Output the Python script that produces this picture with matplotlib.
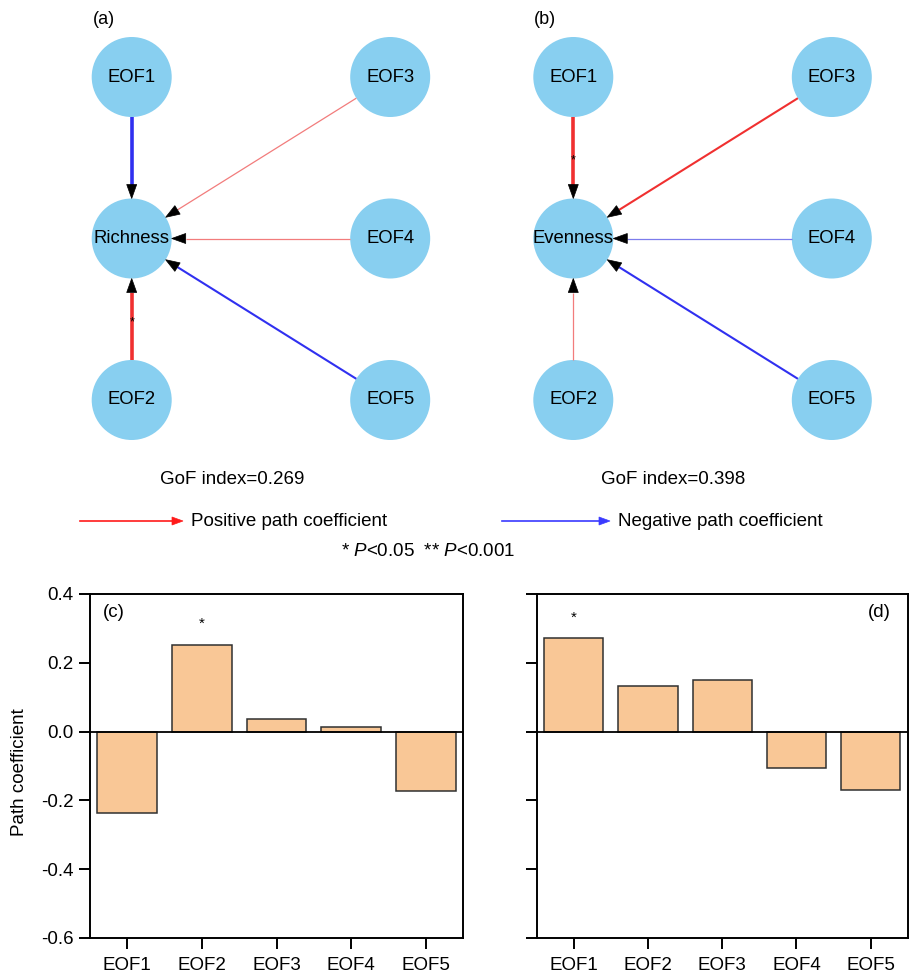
import numpy as np
import matplotlib
matplotlib.use("Agg")
import matplotlib.pyplot as plt
from matplotlib.patches import Circle, Polygon

plt.rcParams["font.family"] = ["Liberation Sans", "DejaVu Sans"]
plt.rcParams["mathtext.fontset"] = "custom"
plt.rcParams["mathtext.rm"] = "Liberation Sans"
plt.rcParams["mathtext.it"] = "Liberation Sans:italic"

# ---- data -------------------------------------------------------------
predictors = ["EOF1", "EOF2", "EOF3", "EOF4", "EOF5"]
richness_coef = [-0.238, 0.252, 0.036, 0.014, -0.173]
evenness_coef = [0.271, 0.133, 0.149, -0.107, -0.170]
richness_sig = ["", "*", "", "", ""]
evenness_sig = ["*", "", "", "", ""]
gof_richness = 0.269
gof_evenness = 0.398
yticks = [-0.6, -0.4, -0.2, 0.0, 0.2, 0.4]

# ---- styling ----------------------------------------------------------
W, H = 911, 977
NODE_COLOR = "#88CFF0"
POS_COLOR = "#F03030"
NEG_COLOR = "#3030F0"
POS_LIGHT = "#F27C7C"
NEG_LIGHT = "#7C7CEC"
BAR_COLOR = "#F9C796"
FS = 13.5

fig = plt.figure(figsize=(W / 100, H / 100), dpi=100)

# overlay axes in pixel units for the path diagrams
net = fig.add_axes([0, 0, 1, 1])
net.set_xlim(0, W)
net.set_ylim(H, 0)
net.axis("off")

# node grid: two columns, three rows
grid = {"EOF1": (0, 0), "EOF3": (1, 0), "resp": (0, 1),
        "EOF4": (1, 1), "EOF2": (0, 2), "EOF5": (1, 2)}
COL_STEP, ROW_STEP, R = 258.5, 161.5, 40.0


def edge_style(v):
    m = abs(v)
    if m >= 0.2:
        return (POS_COLOR if v > 0 else NEG_COLOR), 2.6
    if m >= 0.14:
        return (POS_COLOR if v > 0 else NEG_COLOR), 1.5
    return (POS_LIGHT if v > 0 else NEG_LIGHT), 0.9


def draw_diagram(x0, y0, response, coefs, sigs, tag, gof):
    pos = {k: (x0 + c * COL_STEP, y0 + r * ROW_STEP) for k, (c, r) in grid.items()}
    tx, ty = pos["resp"]
    for name, v, s in zip(predictors, coefs, sigs):
        sx, sy = pos[name]
        d = np.array([tx - sx, ty - sy])
        u = d / np.hypot(*d)
        nrm = np.array([-u[1], u[0]])
        start = np.array([sx, sy]) + u * R
        tip = np.array([tx, ty]) - u * R
        base = tip - u * 14
        color, lw = edge_style(v)
        net.plot([start[0], base[0]], [start[1], base[1]], color=color,
                 lw=lw, solid_capstyle="butt", zorder=2)
        head = Polygon([tip, base + nrm * 5, base - nrm * 5], closed=True,
                       facecolor="black", edgecolor="black", lw=0.5, zorder=3)
        net.add_patch(head)
        if s:
            net.text((sx + tx) / 2, (sy + ty) / 2 + 3, s, fontsize=9,
                     ha="center", va="center", zorder=4)
    for k, (cx, cy) in pos.items():
        net.add_patch(Circle((cx, cy), R, facecolor=NODE_COLOR,
                             edgecolor="none", zorder=1))
        label = response if k == "resp" else k
        net.text(cx, cy, label, fontsize=13.3, ha="center", va="center",
                 zorder=5)
    net.text(x0 - 39, 20, tag, fontsize=13, ha="left", va="center")
    net.text(x0 + 100, 480, f"GoF index={gof:.3f}", fontsize=FS,
             ha="center", va="center")


draw_diagram(131.7, 77.0, "Richness", richness_coef, richness_sig, "(a)",
             gof_richness)
draw_diagram(573.3, 77.0, "Evenness", evenness_coef, evenness_sig, "(b)",
             gof_evenness)

# legend for edge colours
for x_start, x_end, color, text in [(80, 183, "#FF1A1A", "Positive path coefficient"),
                                    (502, 610, "#3A3AFF", "Negative path coefficient")]:
    net.plot([x_start, x_end - 10], [521, 521], color=color, lw=1.2)
    net.add_patch(Polygon([(x_end, 521), (x_end - 11, 517), (x_end - 11, 525)],
                          closed=True, facecolor=color, edgecolor=color, lw=0.5))
    net.text(x_end + 8, 521, text, fontsize=FS, ha="left", va="center")
net.text(428, 551, r"* $P$<0.05  ** $P$<0.001", fontsize=FS,
         ha="center", va="center")

# ---- bar charts -------------------------------------------------------
x = np.arange(len(predictors))


def bar_panel(rect, coefs, sigs, tag, tag_x, tag_ha, show_labels):
    ax = fig.add_axes(rect)
    ax.bar(x, coefs, width=0.8, color=BAR_COLOR, edgecolor="#303030",
           linewidth=1.1, zorder=2)
    ax.axhline(0, color="black", lw=1.3, zorder=3)
    ax.set_xlim(-0.5, 4.5)
    ax.set_ylim(-0.6, 0.4)
    ax.set_xticks(x)
    ax.set_xticklabels(predictors, fontsize=FS)
    ax.set_yticks(yticks)
    if show_labels:
        ax.set_yticklabels([f"{t:.1f}" for t in yticks], fontsize=FS)
    else:
        ax.set_yticklabels([])
    ax.tick_params(axis="both", direction="out", length=8, width=1.4, pad=4)
    ax.tick_params(axis="x", pad=6)
    for sp in ax.spines.values():
        sp.set_linewidth(1.4)
    for xi, v, s in zip(x, coefs, sigs):
        if s:
            ax.annotate(s, (xi, v), xytext=(0, 10), textcoords="offset points",
                        ha="center", va="bottom", fontsize=11)
    ax.text(tag_x, 0.945, tag, transform=ax.transAxes, fontsize=FS,
            ha=tag_ha, va="center")
    return ax


bar_panel([90 / W, (H - 938) / H, 373 / W, 344 / H], richness_coef,
          richness_sig, "(c)", 0.035, "left", True)
bar_panel([536.7 / W, (H - 938) / H, 371 / W, 344 / H], evenness_coef,
          evenness_sig, "(d)", 0.955, "right", False)

fig.text(20 / W, 1 - 772 / H, "Path coefficient", rotation=90, fontsize=FS,
         ha="center", va="center")

fig.savefig("out.png", dpi=100)
